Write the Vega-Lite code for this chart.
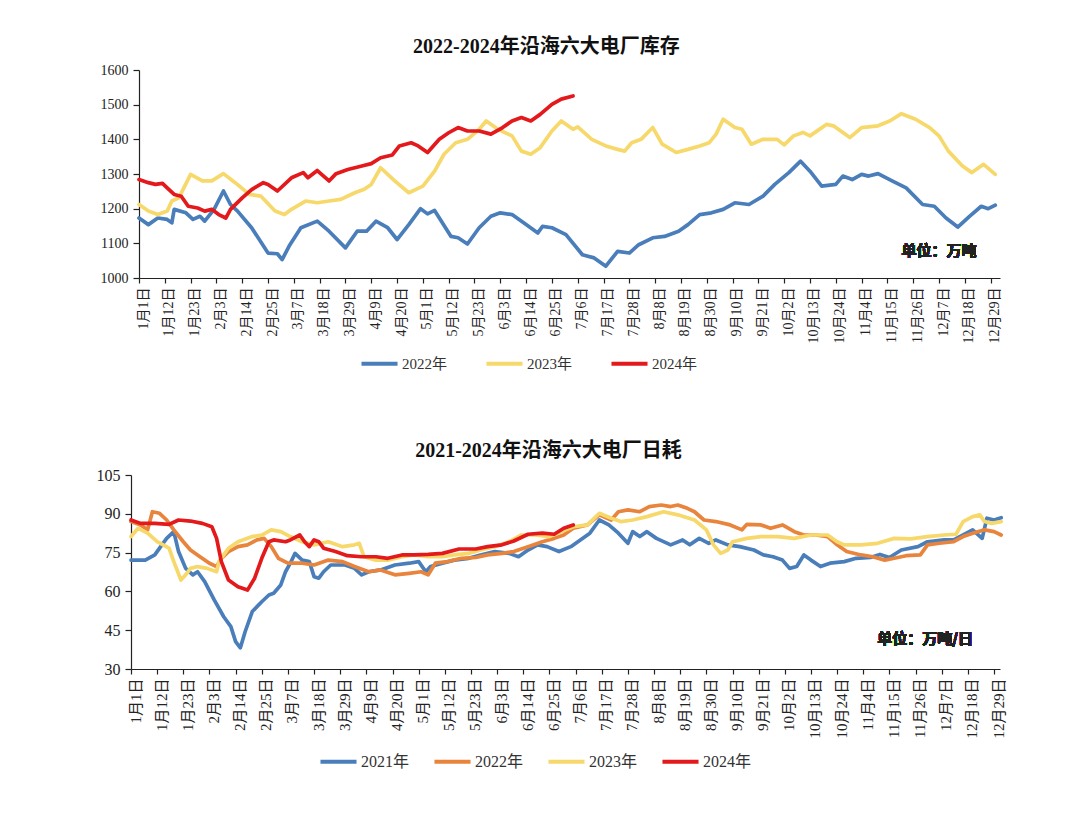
{
  "$schema": "https://vega.github.io/schema/vega-lite/v6.json",
  "background": "white",
  "padding": {"left": 90, "top": 37, "right": 5, "bottom": 5},
  "config": {
    "view": {"stroke": null},
    "font": "Liberation Serif, Noto Sans CJK SC",
    "title": {"font": "Liberation Serif, Noto Sans CJK SC", "fontWeight": "bold", "color": "#111", "anchor": "middle", "frame": "bounds"},
    "axis": {"grid": false, "title": null, "domainColor": "#222", "tickColor": "#222", "labelColor": "#222", "labelFont": "Liberation Serif, Noto Sans CJK SC", "domainWidth": 1.2, "tickWidth": 1.2, "tickCount": 50},
    "legend": {"orient": "none", "direction": "horizontal", "title": null, "symbolType": "stroke", "symbolStrokeWidth": 4, "symbolSize": 1300, "labelFont": "Liberation Serif, Noto Sans CJK SC", "labelFontSize": 15, "labelColor": "#333", "labelOffset": 2}
  },
  "resolve": {"scale": {"color": "independent", "x": "independent", "y": "independent"}, "legend": {"color": "independent"}},
  "spacing": 69,
  "datasets": {
    "stock": [
      {"year":"2022年","day":0,"value":1173},{"year":"2022年","day":4,"value":1154},{"year":"2022年","day":8,"value":1173},{"year":"2022年","day":12,"value":1169},{"year":"2022年","day":14,"value":1159},{"year":"2022年","day":15,"value":1198},{"year":"2022年","day":20,"value":1188},{"year":"2022年","day":23,"value":1169},{"year":"2022年","day":26,"value":1178},{"year":"2022年","day":28,"value":1164},{"year":"2022年","day":32,"value":1198},{"year":"2022年","day":36,"value":1251},{"year":"2022年","day":39,"value":1212},{"year":"2022年","day":42,"value":1193},{"year":"2022年","day":48,"value":1145},{"year":"2022年","day":55,"value":1072},{"year":"2022年","day":59,"value":1070},{"year":"2022年","day":61,"value":1053},{"year":"2022年","day":64,"value":1092},{"year":"2022年","day":69,"value":1145},{"year":"2022年","day":76,"value":1164},{"year":"2022年","day":81,"value":1135},{"year":"2022年","day":88,"value":1087},{"year":"2022年","day":93,"value":1135},{"year":"2022年","day":97,"value":1135},{"year":"2022年","day":101,"value":1164},{"year":"2022年","day":106,"value":1145},{"year":"2022年","day":110,"value":1111},{"year":"2022年","day":115,"value":1154},{"year":"2022年","day":120,"value":1200},{"year":"2022年","day":123,"value":1185},{"year":"2022年","day":126,"value":1195},{"year":"2022年","day":133,"value":1120},{"year":"2022年","day":136,"value":1116},{"year":"2022年","day":140,"value":1098},{"year":"2022年","day":145,"value":1145},{"year":"2022年","day":150,"value":1178},{"year":"2022年","day":154,"value":1188},{"year":"2022年","day":159,"value":1183},{"year":"2022年","day":165,"value":1154},{"year":"2022年","day":170,"value":1130},{"year":"2022年","day":172,"value":1149},{"year":"2022年","day":176,"value":1145},{"year":"2022年","day":182,"value":1125},{"year":"2022年","day":189,"value":1067},{"year":"2022年","day":194,"value":1058},{"year":"2022年","day":199,"value":1034},{"year":"2022年","day":204,"value":1077},{"year":"2022年","day":209,"value":1072},{"year":"2022年","day":213,"value":1096},{"year":"2022年","day":219,"value":1116},{"year":"2022年","day":224,"value":1120},{"year":"2022年","day":230,"value":1135},{"year":"2022年","day":234,"value":1154},{"year":"2022年","day":239,"value":1183},{"year":"2022年","day":244,"value":1188},{"year":"2022年","day":249,"value":1198},{"year":"2022年","day":254,"value":1217},{"year":"2022年","day":260,"value":1212},{"year":"2022年","day":266,"value":1236},{"year":"2022年","day":271,"value":1270},{"year":"2022年","day":277,"value":1304},{"year":"2022年","day":282,"value":1337},{"year":"2022年","day":286,"value":1308},{"year":"2022年","day":291,"value":1265},{"year":"2022年","day":297,"value":1270},{"year":"2022年","day":300,"value":1294},{"year":"2022年","day":304,"value":1284},{"year":"2022年","day":308,"value":1299},{"year":"2022年","day":311,"value":1294},{"year":"2022年","day":315,"value":1301},{"year":"2022年","day":321,"value":1280},{"year":"2022年","day":327,"value":1260},{"year":"2022年","day":334,"value":1212},{"year":"2022年","day":339,"value":1207},{"year":"2022年","day":344,"value":1173},{"year":"2022年","day":349,"value":1147},{"year":"2022年","day":354,"value":1178},{"year":"2022年","day":359,"value":1207},{"year":"2022年","day":362,"value":1200},{"year":"2022年","day":365,"value":1210},
      {"year":"2023年","day":0,"value":1212},{"year":"2023年","day":4,"value":1193},{"year":"2023年","day":8,"value":1183},{"year":"2023年","day":12,"value":1193},{"year":"2023年","day":14,"value":1222},{"year":"2023年","day":17,"value":1231},{"year":"2023年","day":22,"value":1299},{"year":"2023年","day":27,"value":1280},{"year":"2023年","day":31,"value":1280},{"year":"2023年","day":36,"value":1301},{"year":"2023年","day":41,"value":1275},{"year":"2023年","day":47,"value":1241},{"year":"2023年","day":52,"value":1236},{"year":"2023年","day":58,"value":1193},{"year":"2023年","day":62,"value":1183},{"year":"2023年","day":65,"value":1198},{"year":"2023年","day":71,"value":1222},{"year":"2023年","day":76,"value":1217},{"year":"2023年","day":81,"value":1222},{"year":"2023年","day":86,"value":1227},{"year":"2023年","day":92,"value":1246},{"year":"2023年","day":96,"value":1256},{"year":"2023年","day":99,"value":1270},{"year":"2023年","day":103,"value":1318},{"year":"2023年","day":109,"value":1280},{"year":"2023年","day":115,"value":1246},{"year":"2023年","day":121,"value":1265},{"year":"2023年","day":126,"value":1308},{"year":"2023年","day":130,"value":1357},{"year":"2023年","day":135,"value":1390},{"year":"2023年","day":140,"value":1400},{"year":"2023年","day":145,"value":1429},{"year":"2023年","day":148,"value":1453},{"year":"2023年","day":153,"value":1429},{"year":"2023年","day":159,"value":1410},{"year":"2023年","day":163,"value":1366},{"year":"2023年","day":167,"value":1357},{"year":"2023年","day":171,"value":1376},{"year":"2023年","day":176,"value":1424},{"year":"2023年","day":180,"value":1453},{"year":"2023年","day":185,"value":1429},{"year":"2023年","day":187,"value":1436},{"year":"2023年","day":193,"value":1400},{"year":"2023年","day":199,"value":1381},{"year":"2023年","day":204,"value":1371},{"year":"2023年","day":207,"value":1366},{"year":"2023年","day":210,"value":1390},{"year":"2023年","day":214,"value":1400},{"year":"2023年","day":219,"value":1434},{"year":"2023年","day":223,"value":1386},{"year":"2023年","day":229,"value":1362},{"year":"2023年","day":234,"value":1371},{"year":"2023年","day":239,"value":1381},{"year":"2023年","day":243,"value":1390},{"year":"2023年","day":246,"value":1415},{"year":"2023年","day":249,"value":1458},{"year":"2023年","day":254,"value":1434},{"year":"2023年","day":257,"value":1429},{"year":"2023年","day":261,"value":1386},{"year":"2023年","day":266,"value":1400},{"year":"2023年","day":272,"value":1400},{"year":"2023年","day":275,"value":1384},{"year":"2023年","day":279,"value":1410},{"year":"2023年","day":283,"value":1420},{"year":"2023年","day":286,"value":1410},{"year":"2023年","day":293,"value":1443},{"year":"2023年","day":296,"value":1439},{"year":"2023年","day":303,"value":1405},{"year":"2023年","day":308,"value":1434},{"year":"2023年","day":315,"value":1439},{"year":"2023年","day":320,"value":1453},{"year":"2023年","day":325,"value":1474},{"year":"2023年","day":331,"value":1458},{"year":"2023年","day":337,"value":1434},{"year":"2023年","day":341,"value":1410},{"year":"2023年","day":345,"value":1366},{"year":"2023年","day":351,"value":1323},{"year":"2023年","day":355,"value":1304},{"year":"2023年","day":360,"value":1328},{"year":"2023年","day":365,"value":1299},
      {"year":"2024年","day":0,"value":1284},{"year":"2024年","day":4,"value":1275},{"year":"2024年","day":7,"value":1270},{"year":"2024年","day":10,"value":1273},{"year":"2024年","day":12,"value":1260},{"year":"2024年","day":15,"value":1241},{"year":"2024年","day":18,"value":1236},{"year":"2024年","day":21,"value":1207},{"year":"2024年","day":25,"value":1202},{"year":"2024年","day":28,"value":1193},{"year":"2024年","day":31,"value":1198},{"year":"2024年","day":34,"value":1183},{"year":"2024年","day":37,"value":1173},{"year":"2024年","day":39,"value":1198},{"year":"2024年","day":44,"value":1231},{"year":"2024年","day":48,"value":1255},{"year":"2024年","day":53,"value":1275},{"year":"2024年","day":55,"value":1270},{"year":"2024年","day":59,"value":1251},{"year":"2024年","day":65,"value":1289},{"year":"2024年","day":70,"value":1304},{"year":"2024年","day":72,"value":1289},{"year":"2024年","day":76,"value":1310},{"year":"2024年","day":81,"value":1280},{"year":"2024年","day":84,"value":1301},{"year":"2024年","day":89,"value":1313},{"year":"2024年","day":95,"value":1323},{"year":"2024年","day":99,"value":1330},{"year":"2024年","day":103,"value":1347},{"year":"2024年","day":108,"value":1355},{"year":"2024年","day":111,"value":1381},{"year":"2024年","day":116,"value":1390},{"year":"2024年","day":119,"value":1381},{"year":"2024年","day":123,"value":1362},{"year":"2024年","day":128,"value":1400},{"year":"2024年","day":132,"value":1419},{"year":"2024年","day":136,"value":1434},{"year":"2024年","day":140,"value":1424},{"year":"2024年","day":145,"value":1424},{"year":"2024年","day":150,"value":1415},{"year":"2024年","day":155,"value":1434},{"year":"2024年","day":159,"value":1453},{"year":"2024年","day":163,"value":1463},{"year":"2024年","day":167,"value":1453},{"year":"2024年","day":171,"value":1472},{"year":"2024年","day":176,"value":1501},{"year":"2024年","day":180,"value":1516},{"year":"2024年","day":185,"value":1525}
    ],
    "daily": [
      {"year":"2021年","day":0,"value":72.1},{"year":"2021年","day":6,"value":72.1},{"year":"2021年","day":10,"value":74.1},{"year":"2021年","day":13,"value":78},{"year":"2021年","day":15,"value":80.5},{"year":"2021年","day":18,"value":83.1},{"year":"2021年","day":20,"value":75.4},{"year":"2021年","day":23,"value":68.9},{"year":"2021年","day":26,"value":66.4},{"year":"2021年","day":28,"value":67.6},{"year":"2021年","day":31,"value":63.8},{"year":"2021年","day":35,"value":56.7},{"year":"2021年","day":39,"value":50.2},{"year":"2021年","day":42,"value":46.4},{"year":"2021年","day":44,"value":40.6},{"year":"2021年","day":46,"value":38.2},{"year":"2021年","day":48,"value":44.4},{"year":"2021年","day":51,"value":52.2},{"year":"2021年","day":55,"value":56},{"year":"2021年","day":58,"value":58.6},{"year":"2021年","day":60,"value":59.3},{"year":"2021年","day":63,"value":62.5},{"year":"2021年","day":65,"value":67.6},{"year":"2021年","day":67,"value":70.9},{"year":"2021年","day":69,"value":74.7},{"year":"2021年","day":72,"value":72.1},{"year":"2021年","day":75,"value":71.5},{"year":"2021年","day":77,"value":65.7},{"year":"2021年","day":79,"value":65.1},{"year":"2021年","day":81,"value":67.6},{"year":"2021年","day":84,"value":70.2},{"year":"2021年","day":90,"value":70.2},{"year":"2021年","day":94,"value":68.9},{"year":"2021年","day":97,"value":66.4},{"year":"2021年","day":100,"value":67.6},{"year":"2021年","day":105,"value":68.3},{"year":"2021年","day":111,"value":70.2},{"year":"2021年","day":117,"value":70.9},{"year":"2021年","day":121,"value":71.5},{"year":"2021年","day":124,"value":67.6},{"year":"2021年","day":126,"value":69.6},{"year":"2021年","day":131,"value":70.9},{"year":"2021年","day":136,"value":72.1},{"year":"2021年","day":142,"value":72.8},{"year":"2021年","day":147,"value":74.1},{"year":"2021年","day":153,"value":75.4},{"year":"2021年","day":159,"value":74.7},{"year":"2021年","day":163,"value":73.4},{"year":"2021年","day":167,"value":76},{"year":"2021年","day":171,"value":78},{"year":"2021年","day":175,"value":77.3},{"year":"2021年","day":180,"value":75.4},{"year":"2021年","day":185,"value":77.3},{"year":"2021年","day":189,"value":79.9},{"year":"2021年","day":193,"value":82.5},{"year":"2021年","day":197,"value":87.6},{"year":"2021年","day":201,"value":85.7},{"year":"2021年","day":205,"value":82.5},{"year":"2021年","day":209,"value":78.6},{"year":"2021年","day":211,"value":83.1},{"year":"2021年","day":214,"value":81.2},{"year":"2021年","day":217,"value":83.1},{"year":"2021年","day":221,"value":80.5},{"year":"2021年","day":227,"value":78},{"year":"2021年","day":232,"value":79.9},{"year":"2021年","day":235,"value":78},{"year":"2021年","day":239,"value":80.5},{"year":"2021年","day":243,"value":78.6},{"year":"2021年","day":246,"value":79.9},{"year":"2021年","day":251,"value":78},{"year":"2021年","day":256,"value":77.3},{"year":"2021年","day":262,"value":76},{"year":"2021年","day":266,"value":74.1},{"year":"2021年","day":270,"value":73.4},{"year":"2021年","day":274,"value":72.1},{"year":"2021年","day":277,"value":68.9},{"year":"2021年","day":280,"value":69.6},{"year":"2021年","day":283,"value":74.1},{"year":"2021年","day":286,"value":72.1},{"year":"2021年","day":290,"value":69.6},{"year":"2021年","day":294,"value":70.9},{"year":"2021年","day":300,"value":71.5},{"year":"2021年","day":305,"value":72.8},{"year":"2021年","day":311,"value":73.1},{"year":"2021年","day":315,"value":74.3},{"year":"2021年","day":319,"value":73.1},{"year":"2021年","day":324,"value":76},{"year":"2021年","day":331,"value":77.3},{"year":"2021年","day":335,"value":79.2},{"year":"2021年","day":342,"value":79.9},{"year":"2021年","day":346,"value":79.9},{"year":"2021年","day":350,"value":81.8},{"year":"2021年","day":354,"value":83.8},{"year":"2021年","day":358,"value":80.5},{"year":"2021年","day":360,"value":88.3},{"year":"2021年","day":363,"value":87.6},{"year":"2021年","day":366,"value":88.5},
      {"year":"2022年","day":0,"value":87},{"year":"2022年","day":4,"value":85.7},{"year":"2022年","day":7,"value":83.8},{"year":"2022年","day":9,"value":90.8},{"year":"2022年","day":12,"value":90.2},{"year":"2022年","day":15,"value":87.6},{"year":"2022年","day":18,"value":83.8},{"year":"2022年","day":22,"value":79.2},{"year":"2022年","day":25,"value":76},{"year":"2022年","day":29,"value":73.4},{"year":"2022年","day":33,"value":70.9},{"year":"2022年","day":36,"value":69.6},{"year":"2022年","day":38,"value":72.8},{"year":"2022年","day":41,"value":75.4},{"year":"2022年","day":45,"value":77.3},{"year":"2022年","day":49,"value":78},{"year":"2022年","day":53,"value":79.9},{"year":"2022年","day":56,"value":80.5},{"year":"2022年","day":59,"value":77.3},{"year":"2022年","day":62,"value":72.8},{"year":"2022年","day":66,"value":70.9},{"year":"2022年","day":72,"value":70.9},{"year":"2022年","day":77,"value":70.2},{"year":"2022年","day":83,"value":72.1},{"year":"2022年","day":89,"value":71.5},{"year":"2022年","day":94,"value":69.6},{"year":"2022年","day":100,"value":67.6},{"year":"2022年","day":105,"value":68.3},{"year":"2022年","day":111,"value":66.4},{"year":"2022年","day":117,"value":67},{"year":"2022年","day":122,"value":67.6},{"year":"2022年","day":125,"value":66.4},{"year":"2022年","day":128,"value":70.9},{"year":"2022年","day":133,"value":71.5},{"year":"2022年","day":139,"value":72.8},{"year":"2022年","day":145,"value":73.1},{"year":"2022年","day":150,"value":74.1},{"year":"2022年","day":156,"value":74.7},{"year":"2022年","day":161,"value":75.4},{"year":"2022年","day":167,"value":77.3},{"year":"2022年","day":173,"value":79.2},{"year":"2022年","day":178,"value":80.5},{"year":"2022年","day":182,"value":81.8},{"year":"2022年","day":186,"value":84.4},{"year":"2022年","day":192,"value":85.7},{"year":"2022年","day":197,"value":89.6},{"year":"2022年","day":202,"value":87.6},{"year":"2022年","day":205,"value":90.8},{"year":"2022年","day":209,"value":91.5},{"year":"2022年","day":214,"value":90.8},{"year":"2022年","day":218,"value":92.8},{"year":"2022年","day":223,"value":93.4},{"year":"2022年","day":227,"value":92.8},{"year":"2022年","day":230,"value":93.4},{"year":"2022年","day":234,"value":92.1},{"year":"2022年","day":237,"value":90.8},{"year":"2022年","day":241,"value":87.6},{"year":"2022年","day":246,"value":87},{"year":"2022年","day":252,"value":85.7},{"year":"2022年","day":257,"value":83.8},{"year":"2022年","day":259,"value":85.9},{"year":"2022年","day":265,"value":85.7},{"year":"2022年","day":269,"value":84.4},{"year":"2022年","day":274,"value":85.7},{"year":"2022年","day":279,"value":83.1},{"year":"2022年","day":283,"value":81.8},{"year":"2022年","day":288,"value":81.8},{"year":"2022年","day":293,"value":81.2},{"year":"2022年","day":297,"value":78},{"year":"2022年","day":301,"value":75.4},{"year":"2022年","day":307,"value":74.1},{"year":"2022年","day":312,"value":73.4},{"year":"2022年","day":317,"value":72.1},{"year":"2022年","day":321,"value":72.8},{"year":"2022年","day":326,"value":73.8},{"year":"2022年","day":332,"value":74.1},{"year":"2022年","day":335,"value":78},{"year":"2022年","day":340,"value":78.6},{"year":"2022年","day":346,"value":79.2},{"year":"2022年","day":350,"value":81.2},{"year":"2022年","day":354,"value":82.5},{"year":"2022年","day":359,"value":83.8},{"year":"2022年","day":363,"value":83.1},{"year":"2022年","day":366,"value":81.8},
      {"year":"2023年","day":0,"value":81.2},{"year":"2023年","day":3,"value":84.4},{"year":"2023年","day":7,"value":82.5},{"year":"2023年","day":11,"value":79.2},{"year":"2023年","day":16,"value":76.7},{"year":"2023年","day":18,"value":71.5},{"year":"2023年","day":21,"value":64.4},{"year":"2023年","day":23,"value":66.4},{"year":"2023年","day":25,"value":68.9},{"year":"2023年","day":28,"value":69.6},{"year":"2023年","day":32,"value":68.9},{"year":"2023年","day":36,"value":67.6},{"year":"2023年","day":37,"value":71.5},{"year":"2023年","day":41,"value":76.7},{"year":"2023年","day":45,"value":79.2},{"year":"2023年","day":51,"value":81.2},{"year":"2023年","day":55,"value":81.8},{"year":"2023年","day":59,"value":83.8},{"year":"2023年","day":63,"value":83.1},{"year":"2023年","day":67,"value":81.2},{"year":"2023年","day":72,"value":79.2},{"year":"2023年","day":77,"value":78},{"year":"2023年","day":83,"value":79.2},{"year":"2023年","day":89,"value":77.3},{"year":"2023年","day":94,"value":78},{"year":"2023年","day":96,"value":78.6},{"year":"2023年","day":98,"value":73.4},{"year":"2023年","day":103,"value":72.1},{"year":"2023年","day":108,"value":72.1},{"year":"2023年","day":114,"value":73.4},{"year":"2023年","day":119,"value":74.1},{"year":"2023年","day":125,"value":73.4},{"year":"2023年","day":131,"value":73.4},{"year":"2023年","day":136,"value":74.1},{"year":"2023年","day":142,"value":74.7},{"year":"2023年","day":147,"value":76},{"year":"2023年","day":153,"value":77.3},{"year":"2023年","day":159,"value":79.2},{"year":"2023年","day":164,"value":81.8},{"year":"2023年","day":170,"value":81.8},{"year":"2023年","day":176,"value":81.2},{"year":"2023年","day":181,"value":83.1},{"year":"2023年","day":186,"value":85},{"year":"2023年","day":192,"value":85.7},{"year":"2023年","day":197,"value":90.2},{"year":"2023年","day":202,"value":88.3},{"year":"2023年","day":206,"value":87},{"year":"2023年","day":211,"value":87.6},{"year":"2023年","day":217,"value":88.9},{"year":"2023年","day":224,"value":90.8},{"year":"2023年","day":230,"value":89.6},{"year":"2023年","day":237,"value":87.6},{"year":"2023年","day":242,"value":83.8},{"year":"2023年","day":245,"value":78},{"year":"2023年","day":248,"value":74.7},{"year":"2023年","day":251,"value":76},{"year":"2023年","day":253,"value":79.2},{"year":"2023年","day":259,"value":80.5},{"year":"2023年","day":265,"value":81.2},{"year":"2023年","day":272,"value":81.2},{"year":"2023年","day":279,"value":80.5},{"year":"2023年","day":286,"value":81.8},{"year":"2023年","day":293,"value":81.8},{"year":"2023年","day":297,"value":79.2},{"year":"2023年","day":300,"value":78},{"year":"2023年","day":307,"value":78},{"year":"2023年","day":314,"value":78.6},{"year":"2023年","day":321,"value":80.5},{"year":"2023年","day":328,"value":80.3},{"year":"2023年","day":335,"value":81.2},{"year":"2023年","day":342,"value":81.8},{"year":"2023年","day":347,"value":82.1},{"year":"2023年","day":350,"value":87},{"year":"2023年","day":354,"value":88.9},{"year":"2023年","day":357,"value":89.6},{"year":"2023年","day":359,"value":87},{"year":"2023年","day":362,"value":86.3},{"year":"2023年","day":366,"value":87},
      {"year":"2024年","day":0,"value":87.6},{"year":"2024年","day":4,"value":86.3},{"year":"2024年","day":10,"value":86.3},{"year":"2024年","day":16,"value":85.9},{"year":"2024年","day":20,"value":87.6},{"year":"2024年","day":25,"value":87.2},{"year":"2024年","day":30,"value":86.3},{"year":"2024年","day":34,"value":85},{"year":"2024年","day":36,"value":80.5},{"year":"2024年","day":38,"value":71.5},{"year":"2024年","day":41,"value":64.4},{"year":"2024年","day":45,"value":61.8},{"year":"2024年","day":49,"value":60.5},{"year":"2024年","day":52,"value":65.1},{"year":"2024年","day":55,"value":72.8},{"year":"2024年","day":58,"value":79.2},{"year":"2024年","day":60,"value":79.9},{"year":"2024年","day":65,"value":79.2},{"year":"2024年","day":67,"value":79.9},{"year":"2024年","day":71,"value":81.8},{"year":"2024年","day":73,"value":79.2},{"year":"2024年","day":75,"value":77.3},{"year":"2024年","day":77,"value":79.9},{"year":"2024年","day":79,"value":79.2},{"year":"2024年","day":81,"value":76.7},{"year":"2024年","day":86,"value":75.4},{"year":"2024年","day":91,"value":73.8},{"year":"2024年","day":97,"value":73.4},{"year":"2024年","day":103,"value":73.4},{"year":"2024年","day":108,"value":72.8},{"year":"2024年","day":114,"value":74.1},{"year":"2024年","day":119,"value":74.1},{"year":"2024年","day":125,"value":74.3},{"year":"2024年","day":131,"value":74.7},{"year":"2024年","day":138,"value":76.4},{"year":"2024年","day":145,"value":76.4},{"year":"2024年","day":150,"value":77.3},{"year":"2024年","day":156,"value":78},{"year":"2024年","day":161,"value":79.5},{"year":"2024年","day":167,"value":82.1},{"year":"2024年","day":173,"value":82.5},{"year":"2024年","day":178,"value":82.1},{"year":"2024年","day":182,"value":84.4},{"year":"2024年","day":186,"value":85.7}
    ]
  },
  "vconcat": [
    {
      "spacing": 0,
      "hconcat": [
        {"width": 1, "height": 1, "data": {"values": []}, "mark": "point", "encoding": {}},
        {
          "width": 861,
          "height": 208,
          "title": {"text": "2022-2024年沿海六大电厂库存", "fontSize": 20, "offset": 6},
          "data": {"name": "stock"},
          "layer": [
            {
              "mark": {"type": "line", "strokeWidth": 3.7, "strokeJoin": "round", "strokeCap": "round"},
              "encoding": {
                "x": {"field": "day", "type": "quantitative", "scale": {"domain": [0, 367], "nice": false, "zero": false},
                  "axis": {"values": [0,11,22,33,44,55,66,77,88,99,110,121,132,143,154,165,176,187,198,209,220,231,242,253,264,275,286,297,308,319,330,341,352,363],
                    "tickCount": 50,
                    "labelExpr": "['1月1日','1月12日','1月23日','2月3日','2月14日','2月25日','3月7日','3月18日','3月29日','4月9日','4月20日','5月1日','5月12日','5月23日','6月3日','6月14日','6月25日','7月6日','7月17日','7月28日','8月8日','8月19日','8月30日','9月10日','9月21日','10月2日','10月13日','10月24日','11月4日','11月15日','11月26日','12月7日','12月18日','12月29日'][round(datum.value/11)]",
                    "labelAngle": -90, "labelFontSize": 14, "labelPadding": 4, "labelOffset": 4, "tickSize": 5, "labelOverlap": false, "labelFlush": false, "labelBound": false}},
                "y": {"field": "value", "type": "quantitative", "scale": {"domain": [1000, 1600], "nice": false, "zero": false},
                  "axis": {"values": [1000,1100,1200,1300,1400,1500,1600], "tickCount": 20, "format": "d", "labelFontSize": 14, "tickSize": 6, "labelPadding": 5, "labelOverlap": false, "minExtent": 48, "maxExtent": 48}},
                "color": {"field": "year", "type": "nominal", "scale": {"domain": ["2022年","2023年","2024年"], "range": ["#4A7EBB","#F7D86B","#E3191B"]},
                  "legend": {"legendX": 269, "legendY": 273, "columnPadding": 30}}
              }
            },
            {
              "mark": {"type": "text", "font": "Noto Sans CJK SC", "fontSize": 15, "fontWeight": "bold", "color": "#222"},
              "encoding": {"x": {"datum": 341}, "y": {"datum": 1078}, "text": {"value": "单位：万吨"}}
            }
          ]
        }
      ]
    },
    {
      "spacing": 0,
      "hconcat": [
        {"width": 1, "height": 1, "data": {"values": []}, "mark": "point", "encoding": {}},
        {
          "width": 869,
          "height": 194,
          "title": {"text": "2021-2024年沿海六大电厂日耗", "fontSize": 20, "offset": 6},
          "data": {"name": "daily"},
          "layer": [
            {
              "mark": {"type": "line", "strokeWidth": 3.7, "strokeJoin": "round", "strokeCap": "round"},
              "encoding": {
                "x": {"field": "day", "type": "quantitative", "scale": {"domain": [0, 365.5], "nice": false, "zero": false},
                  "axis": {"values": [0,11,22,33,44,55,66,77,88,99,110,121,132,143,154,165,176,187,198,209,220,231,242,253,264,275,286,297,308,319,330,341,352,363],
                    "tickCount": 50,
                    "labelExpr": "['1月1日','1月12日','1月23日','2月3日','2月14日','2月25日','3月7日','3月18日','3月29日','4月9日','4月20日','5月1日','5月12日','5月23日','6月3日','6月14日','6月25日','7月6日','7月17日','7月28日','8月8日','8月19日','8月30日','9月10日','9月21日','10月2日','10月13日','10月24日','11月4日','11月15日','11月26日','12月7日','12月18日','12月29日'][round(datum.value/11)]",
                    "labelAngle": -90, "labelFontSize": 15, "labelPadding": 4, "labelOffset": 4, "tickSize": 5, "labelOverlap": false, "labelFlush": false, "labelBound": false}},
                "y": {"field": "value", "type": "quantitative", "scale": {"domain": [30, 105], "nice": false, "zero": false},
                  "axis": {"values": [30,45,60,75,90,105], "tickCount": 20, "format": "d", "labelFontSize": 16, "tickSize": 6, "labelPadding": 5, "labelOverlap": false, "minExtent": 40, "maxExtent": 40}},
                "color": {"field": "year", "type": "nominal", "scale": {"domain": ["2021年","2022年","2023年","2024年"], "range": ["#4A7EBB","#E8843C","#F7D86B","#E3191B"]},
                  "legend": {"legendX": 228, "legendY": 266, "columnPadding": 16, "labelFontSize": 16}}
              }
            },
            {
              "mark": {"type": "text", "font": "Noto Sans CJK SC", "fontSize": 15, "fontWeight": "bold", "color": "#222"},
              "encoding": {"x": {"datum": 334}, "y": {"datum": 41.6}, "text": {"value": "单位：万吨/日"}}
            }
          ]
        }
      ]
    }
  ]
}
